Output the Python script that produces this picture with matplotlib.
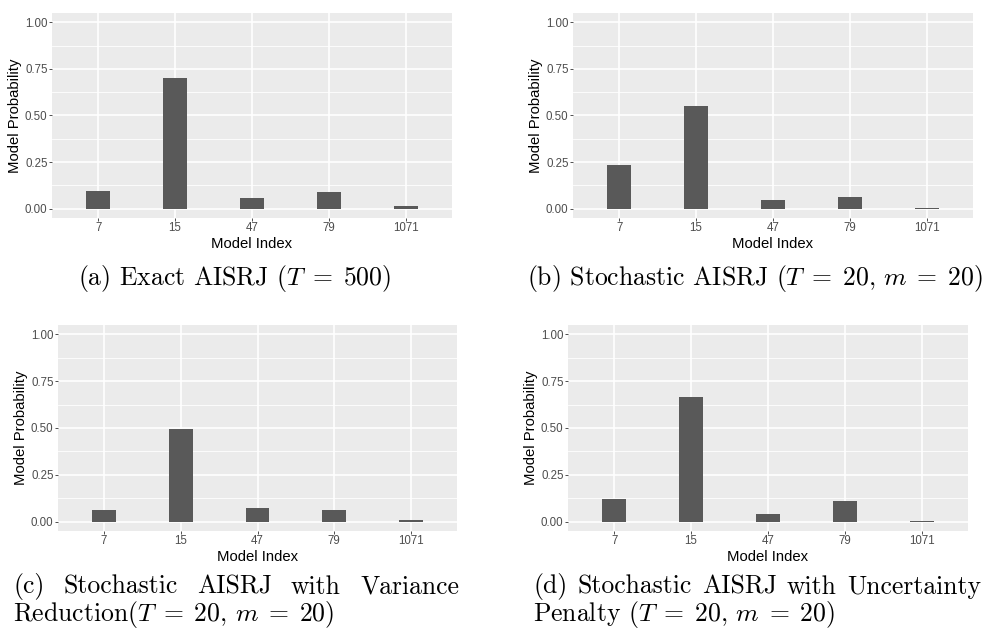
import matplotlib
matplotlib.use("Agg")
from matplotlib import pyplot as plt
from matplotlib.ticker import MultipleLocator

models = ["7", "15", "47", "79", "1071"]
prob_exact = [0.097, 0.703, 0.059, 0.091, 0.016]
prob_stoch = [0.236, 0.553, 0.048, 0.064, 0.004]
prob_vr = [0.062, 0.496, 0.073, 0.062, 0.007]
prob_up = [0.121, 0.663, 0.041, 0.111, 0.004]
y_ticks = [0.0, 0.25, 0.5, 0.75, 1.0]
y_tick_labels = ["0.00", "0.25", "0.50", "0.75", "1.00"]

W, H = 983, 631
plt.rcParams["mathtext.fontset"] = "cm"

fig = plt.figure(figsize=(W / 100, H / 100), dpi=100)
fig.patch.set_facecolor("white")


def px_box(left, top, right, bottom):
    return [left / W, 1 - bottom / H, (right - left) / W, (bottom - top) / H]


def gg_bar(box, values):
    ax = fig.add_axes(px_box(*box))
    ax.set_facecolor("#EBEBEB")
    x = list(range(len(models)))
    ax.bar(x, values, width=0.31, color="#595959", zorder=3)
    ax.set_xlim(-0.6, len(models) - 0.4)
    ax.set_ylim(-0.05, 1.05)
    ax.set_xticks(x)
    ax.set_xticklabels(models)
    ax.set_yticks(y_ticks)
    ax.set_yticklabels(y_tick_labels)
    ax.yaxis.set_minor_locator(MultipleLocator(0.125))
    ax.grid(which="major", color="white", linewidth=1.2, zorder=1)
    ax.grid(which="minor", axis="y", color="white", linewidth=0.6, zorder=1)
    ax.tick_params(which="major", length=2.2, width=0.6, color="#333333",
                   labelcolor="#4D4D4D", labelsize=8.3, pad=1)
    ax.tick_params(which="minor", length=0)
    for lab in ax.get_xticklabels() + ax.get_yticklabels():
        lab.set_fontfamily("Liberation Sans")
    for s in ax.spines.values():
        s.set_visible(False)
    ax.set_xlabel("Model Index", fontsize=10.7, family="Liberation Sans", labelpad=2)
    ax.set_ylabel("Model Probability", fontsize=10.7, family="Liberation Sans", labelpad=2)
    return ax


gg_bar((52, 13, 452, 218), prob_exact)
gg_bar((573, 13, 973, 218), prob_stoch)
gg_bar((58, 325, 457, 531), prob_vr)
gg_bar((568, 325, 968, 531), prob_up)

cap_kw = dict(fontsize=18.5, family="cmr10", va="center")


def caption(s, x, y, ha="left"):
    fig.text(x / W, 1 - y / H, s, ha=ha, **cap_kw)


def justify(words, x0, x1, y):
    # spread the words of a full caption line over its width, like LaTeX does
    texts = [fig.text(0, 1 - y / H, w, ha="left", **cap_kw) for w in words]
    r = fig.canvas.get_renderer()
    widths = [t.get_window_extent(r).width for t in texts]
    gap = (x1 - x0 - sum(widths)) / (len(words) - 1)
    xp = x0
    for t, w in zip(texts, widths):
        t.set_x(xp / W)
        xp += w + gap


caption(r"(a) Exact AISRJ ($T\;=\;500$)", 235, 279, ha="center")
caption(r"(b) Stochastic AISRJ ($T\;=\;20,\,m\;=\;20$)", 755, 279, ha="center")
justify(["(c)", "Stochastic", "AISRJ", "with", "Variance"], 13, 459, 587)
caption(r"Reduction($T\;=\;20,\,m\;=\;20$)", 13, 615)
justify(["(d)", "Stochastic", "AISRJ", "with", "Uncertainty"], 533, 981, 587)
caption(r"Penalty ($T\;=\;20,\,m\;=\;20$)", 533, 615)

fig.savefig("out.png", dpi=100)
